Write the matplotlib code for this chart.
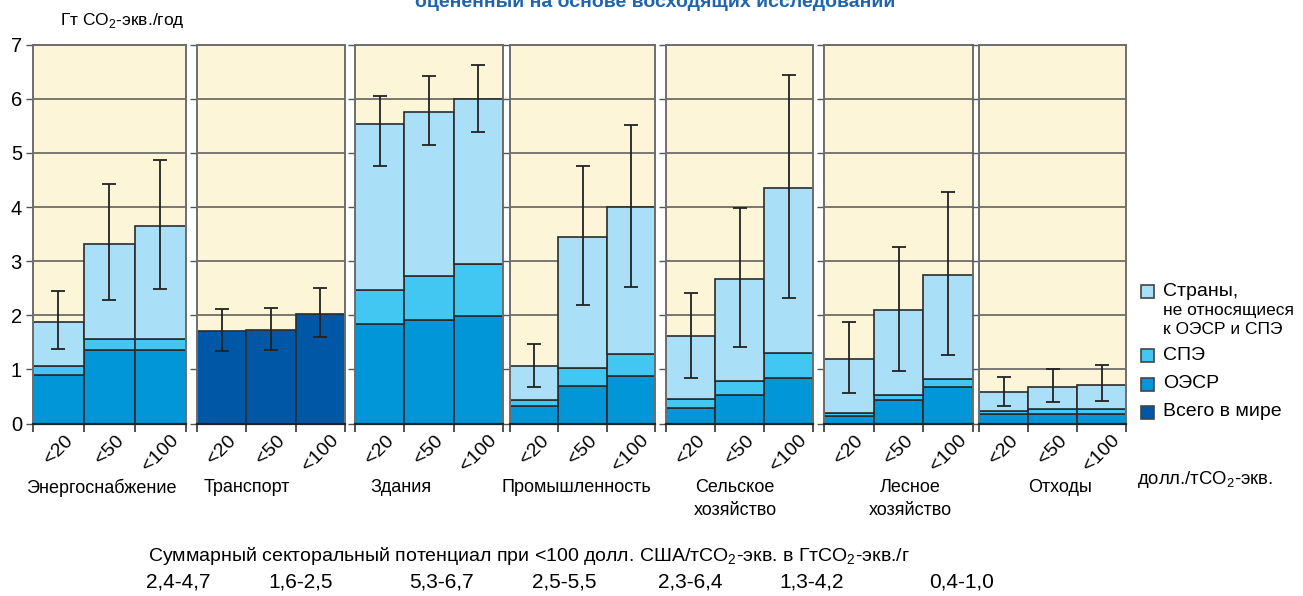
import matplotlib
matplotlib.use("Agg")
import matplotlib.pyplot as plt
from matplotlib.patches import Rectangle

plt.rcParams['font.family'] = ['Liberation Sans', 'DejaVu Sans']
plt.rcParams['mathtext.fontset'] = 'custom'
plt.rcParams['mathtext.rm'] = 'Liberation Sans'

# carbon price levels, USD/tCO2-eq
prices = ['<20', '<50', '<100']

sectors = ['Энергоснабжение', 'Транспорт', 'Здания', 'Промышленность',
           'Сельское\nхозяйство', 'Лесное\nхозяйство', 'Отходы']

# stacked segments per sector (None for transport, which only has a world total)
oecd = [[0.90, 1.35, 1.35], None, [1.83, 1.91, 1.98], [0.33, 0.69, 0.87],
        [0.28, 0.52, 0.85], [0.14, 0.43, 0.67], [0.17, 0.17, 0.17]]
eit = [[0.16, 0.22, 0.22], None, [0.63, 0.81, 0.96], [0.11, 0.33, 0.41],
       [0.17, 0.26, 0.45], [0.05, 0.09, 0.16], [0.07, 0.09, 0.10]]
non_oecd = [[0.82, 1.74, 2.08], None, [3.08, 3.04, 3.06], [0.62, 2.42, 2.72],
            [1.16, 1.89, 3.05], [1.01, 1.58, 1.91], [0.34, 0.42, 0.45]]
world = [None, [1.71, 1.73, 2.03], None, None, None, None, None]

# uncertainty ranges
err_low = [[1.37, 2.28, 2.48], [1.34, 1.36, 1.59], [4.76, 5.15, 5.39], [0.67, 2.19, 2.52],
           [0.85, 1.41, 2.31], [0.56, 0.97, 1.27], [0.33, 0.40, 0.41]]
err_high = [[2.45, 4.43, 4.87], [2.11, 2.13, 2.51], [6.06, 6.43, 6.63], [1.46, 4.76, 5.52],
            [2.41, 3.98, 6.44], [1.88, 3.26, 4.28], [0.86, 1.01, 1.08]]

totals_100 = ['2,4-4,7', '1,6-2,5', '5,3-6,7', '2,5-5,5', '2,3-6,4', '1,3-4,2', '0,4-1,0']

c_non = '#aadff8'
c_eit = '#42c6f2'
c_oecd = '#0096d8'
c_world = '#0057a6'
bg = '#fdf5d7'
edge = '#2b2b2b'

W, H = 1303, 596
fig = plt.figure(figsize=(W / 100, H / 100), dpi=100)

panel_x = [(33, 186), (197, 345), (355, 503), (510, 655), (666, 813), (824, 973), (979, 1126)]
label_x = [101, 247, 401, 576, 735, 910, 1060]
total_x = [178, 301, 441, 564, 690, 812, 962]
top_px, bot_px = 44.7, 423.5

for i, (l, r) in enumerate(panel_x):
    ax = fig.add_axes([l / W, 1 - bot_px / H, (r - l) / W, (bot_px - top_px) / H])
    ax.set_facecolor(bg)
    ax.set_xlim(0, 3)
    ax.set_ylim(0, 7)
    ax.set_axisbelow(True)
    ax.yaxis.grid(True, color='#555555', lw=1.1)
    x = [0.5, 1.5, 2.5]
    kw = dict(width=1.0, edgecolor=edge, linewidth=1.2, zorder=2)
    if world[i] is not None:
        ax.bar(x, world[i], color=c_world, **kw)
    else:
        base2 = [a + b for a, b in zip(oecd[i], eit[i])]
        ax.bar(x, oecd[i], color=c_oecd, **kw)
        ax.bar(x, eit[i], bottom=oecd[i], color=c_eit, **kw)
        ax.bar(x, non_oecd[i], bottom=base2, color=c_non, **kw)
    mid = [(lo + hi) / 2 for lo, hi in zip(err_low[i], err_high[i])]
    half = [(hi - lo) / 2 for lo, hi in zip(err_low[i], err_high[i])]
    ax.errorbar(x, mid, yerr=half, fmt='none', ecolor='#222222', elinewidth=1.3,
                capsize=5, capthick=1.3, zorder=3)

    for s in ['left', 'right', 'top']:
        ax.spines[s].set_color('#6e6e6e')
        ax.spines[s].set_linewidth(1.4)
    ax.spines['bottom'].set_color('#222222')
    ax.spines['bottom'].set_linewidth(1.6)
    ax.spines['bottom'].set_zorder(4)

    ax.set_yticks(range(8))
    ax.tick_params(axis='y', direction='out', length=5, width=1, color='#555555',
                   labelsize=14.5, pad=3)
    if i > 0:
        ax.set_yticklabels([])
    ax.set_xticks([0, 1, 2, 3])
    ax.set_xticklabels([])
    ax.tick_params(axis='x', which='major', direction='out', length=6, width=1.2, color='#333333')
    ax.set_xticks(x, prices, minor=True)
    ax.tick_params(axis='x', which='minor', length=0, pad=6, labelsize=14,
                   labelrotation=45)
    for t in ax.get_xticklabels(minor=True):
        t.set_ha('center')
        t.set_va('top')

    fig.text(label_x[i] / W, 1 - 479 / H, sectors[i], ha='center', va='top',
             fontsize=13, linespacing=1.45)
    fig.text(total_x[i] / W, 1 - 582 / H, totals_100[i], ha='center', va='center',
             fontsize=15)

# title line (top of page)
fig.text(655 / W, 1 - 7 / H, 'оцененный на основе восходящих исследований',
         ha='center', va='baseline', fontsize=14, fontweight='bold', color='#1f64ae')

fig.text(60 / W, 1 - 20 / H, 'Гт CO$_2$-экв./год', ha='left', va='center', fontsize=12.5)
fig.text(1137 / W, 1 - 480 / H, 'долл./тCO$_2$-экв.', ha='left', va='center', fontsize=13.3)
fig.text(148 / W, 1 - 556 / H,
         'Суммарный секторальный потенциал при <100 долл. США/тCO$_2$-экв. в ГтCO$_2$-экв./г',
         ha='left', va='center', fontsize=14)

# legend
legend_items = [(291, c_non, 'Страны,'), (355, c_eit, 'СПЭ'),
                (384, c_oecd, 'ОЭСР'), (412, c_world, 'Всего в мире')]
for yc, col, txt in legend_items:
    fig.add_artist(Rectangle((1141 / W, 1 - (yc + 6.5) / H), 13 / W, 13 / H,
                             transform=fig.transFigure, facecolor=col,
                             edgecolor='#444444', lw=1.2))
    fig.text(1163 / W, 1 - yc / H, txt, ha='left', va='center', fontsize=14)
fig.text(1163 / W, 1 - 311 / H, 'не относящиеся', ha='left', va='center', fontsize=12.5)
fig.text(1163 / W, 1 - 330 / H, 'к ОЭСР и СПЭ', ha='left', va='center', fontsize=12.5)

fig.savefig('out.png', dpi=100)
